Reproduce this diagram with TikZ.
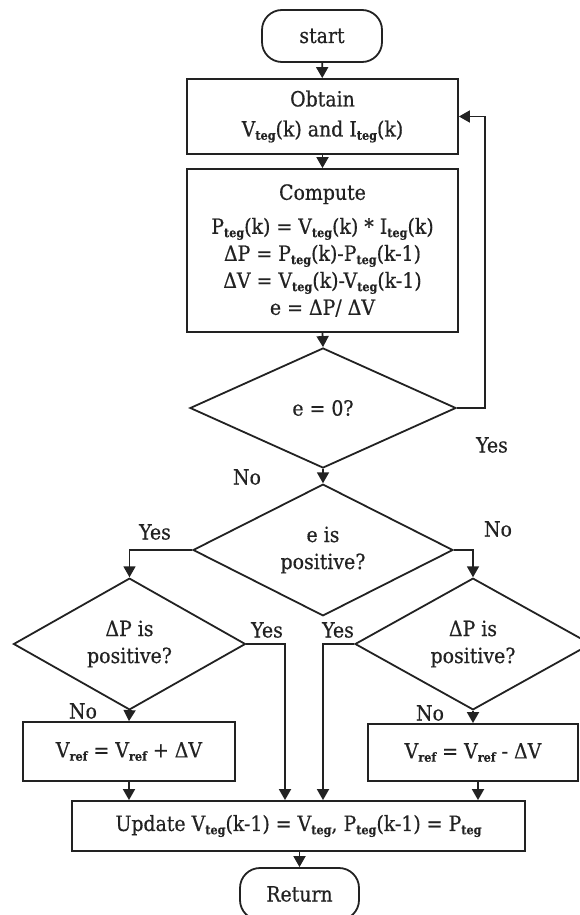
\documentclass[tikz,border=0pt]{standalone}
\usepackage{fontspec}
\setmainfont{DejaVu Serif}[FakeStretch=0.9,FakeBold=0.5]
\usetikzlibrary{shapes.geometric,arrows.meta}
\newcommand{\sbs}[1]{\raisebox{-0.3ex}{\fontsize{12.5}{12}\selectfont\bfseries #1}}
\definecolor{ink}{HTML}{222222}
\tikzset{
  every node/.style={text=ink},
  arr/.style={draw=ink,line width=1.8pt,-{Triangle[width=12pt,length=11pt]}},
  boxnode/.style={draw=ink,line width=1.8pt,rectangle,inner sep=0pt,align=center,font=\fontsize{21}{27}\selectfont},
  termnode/.style={draw=ink,line width=1.8pt,rectangle,rounded corners=20pt,inner sep=0pt,font=\fontsize{21}{24}\selectfont},
  decnode/.style={draw=ink,line width=1.8pt,diamond,inner sep=0pt,align=center,font=\fontsize{21}{27}\selectfont},
  lbl/.style={font=\fontsize{21}{24}\selectfont,inner sep=0pt}
}
\begin{document}
\begin{tikzpicture}[x=1pt,y=-1pt]
\useasboundingbox (0,0) rectangle (579,915);
\node[termnode,minimum width=120pt,minimum height=52pt] (start) at (322,36) {start};
\node[boxnode,minimum width=271pt,minimum height=75pt,font=\fontsize{21}{30}\selectfont] (obtain) at (322.5,116.5) {Obtain\\V\sbs{teg}(k) and I\sbs{teg}(k)};
\node[boxnode,minimum width=271pt,minimum height=163pt] (compute) at (322.5,250.5) {Compute\\[7pt]P\sbs{teg}(k) = V\sbs{teg}(k) * I\sbs{teg}(k)\\ ΔP = P\sbs{teg}(k)-P\sbs{teg}(k-1)\\ ΔV = V\sbs{teg}(k)-V\sbs{teg}(k-1)\\ e = ΔP/ ΔV};
\node[decnode,minimum width=266pt,minimum height=120pt] (ezero) at (323,408) {e = 0?};
\node[decnode,minimum width=260pt,minimum height=126pt] (epos) at (323,550) {e is\\positive?};
\node[decnode,minimum width=232pt,minimum height=128pt] (dl) at (129.5,644) {ΔP is\\positive?};
\node[decnode,minimum width=236pt,minimum height=128pt] (dr) at (473,644) {ΔP is\\positive?};
\node[boxnode,minimum width=212pt,minimum height=59pt] (vplus) at (129,751.5) {V\sbs{ref} = V\sbs{ref} + ΔV};
\node[boxnode,minimum width=210pt,minimum height=57pt] (vminus) at (473,752.5) {V\sbs{ref} = V\sbs{ref} - ΔV};
\node[boxnode,minimum width=453pt,minimum height=50pt] (upd) at (298.5,826) {Update V\sbs{teg}(k-1) = V\sbs{teg}, P\sbs{teg}(k-1) = P\sbs{teg}};
\node[termnode,minimum width=119pt,minimum height=52pt] (ret) at (299.5,894) {Return};
% labels
\node[lbl] (lyes0) at (492,445) {Yes};
\node[lbl] (lno0) at (247,477) {No};
\node[lbl] (lyes1) at (155,532) {Yes};
\node[lbl] (lno1) at (498,529) {No};
\node[lbl] (lyes2) at (267,630) {Yes};
\node[lbl] (lyes3) at (338,630) {Yes};
\node[lbl] (lno2) at (83,711) {No};
\node[lbl] (lno3) at (430,713) {No};
% coordinates
\coordinate (yl) at (285,644);
\coordinate (yr) at (323,644);
% connectors
\draw[arr] (start) -- (obtain);
\draw[arr] (obtain) -- (compute);
\draw[arr] (compute.south) -- (ezero.north);
\draw[arr] (ezero.south) -- (epos.north);
\draw[arr] (ezero.east) -- ++(28,0) |- (obtain.east);
\draw[arr] (epos.west) -| (dl.north);
\draw[arr] (epos.east) -| (dr.north);
\draw[arr] (dl.south) -- (vplus.north);
\draw[arr] (dr.south) -- (vminus.north);
\draw[arr] (dl.east) -- (yl) -- (yl |- upd.north);
\draw[arr] (dr.west) -- (yr) -- (yr |- upd.north);
\draw[arr] (vplus.south) -- (vplus.south |- upd.north);
\draw[arr] ([xshift=5pt]vminus.south) -- ([xshift=5pt]vminus.south |- upd.north);
\draw[arr] (upd.south) -- (upd.south -| ret.north) -- (ret.north);
\end{tikzpicture}
\end{document}
